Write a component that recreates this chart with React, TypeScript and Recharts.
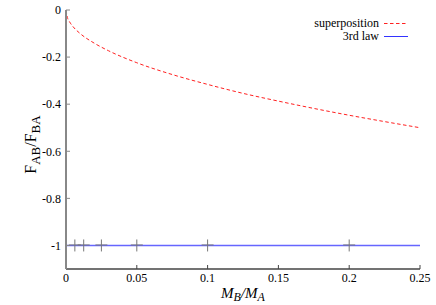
import { ComposedChart, Line, Scatter, XAxis, YAxis, Label } from "recharts";

// superposition curve
const supX = [0, 0.001, 0.0025, 0.005, 0.01, 0.02, 0.03, 0.05, 0.075, 0.1, 0.125, 0.15, 0.175, 0.2, 0.225, 0.25];
const supY = [0, -0.032, -0.05, -0.071, -0.1, -0.141, -0.173, -0.224, -0.274, -0.316, -0.354, -0.387, -0.418, -0.447, -0.474, -0.5];

// 3rd law line
const lawX = [0, 0.25];
const lawY = [-1, -1];

// simulation points (crosses)
const ptX = [0.00625, 0.0125, 0.025, 0.05, 0.1, 0.2];
const ptY = [-1, -1, -1, -1, -1, -1];

const xTicks = [0, 0.05, 0.1, 0.15, 0.2, 0.25];
const yTicks = [0, -0.2, -0.4, -0.6, -0.8, -1];

const supData = supX.map((x, i) => ({ x, y: supY[i] }));
const lawData = lawX.map((x, i) => ({ x, y: lawY[i] }));
const ptData = ptX.map((x, i) => ({ x, y: ptY[i] }));

const FONT = "Liberation Serif";
const tickStyle = { fontSize: 12, fill: "#000", fontFamily: FONT, style: { fontFamily: FONT } };

function Cross(props: any) {
  const { cx, cy } = props;
  return (
    <g stroke="#777" strokeWidth={1}>
      <line x1={cx} y1={cy - 6} x2={cx} y2={cy + 6} />
      <line x1={cx - 6} y1={cy - 0.5} x2={cx + 6} y2={cy - 0.5} />
    </g>
  );
}

function XLabel(props: any) {
  const { x, y, width } = props.viewBox;
  return (
    <text x={x + width / 2} y={y + 29} textAnchor="middle" style={{ fontFamily: FONT }} fontStyle="italic" fontSize={15} fill="#000">
      <tspan>M</tspan>
      <tspan fontSize={12} dy={3}>B</tspan>
      <tspan dy={-3}>/M</tspan>
      <tspan fontSize={12} dy={3}>A</tspan>
    </text>
  );
}

function YLabel(props: any) {
  const { x, y, height } = props.viewBox;
  const cx = x + 19.5;
  const cy = y + height / 2 + 5;
  return (
    <text x={cx} y={cy} textAnchor="middle" transform={`rotate(-90 ${cx} ${cy})`} style={{ fontFamily: FONT }} fontSize={16} fill="#000">
      <tspan>F</tspan>
      <tspan fontSize={13} dy={4}>AB</tspan>
      <tspan dy={-4}>/F</tspan>
      <tspan fontSize={13} dy={4}>BA</tspan>
    </text>
  );
}

export default function App() {
  return (
    <div style={{ position: "absolute", left: 0, top: 0, width: 436, height: 305, background: "#fff", fontFamily: FONT }}>
      <ComposedChart width={436} height={305} margin={{ top: 10, right: 16, bottom: 0, left: 16 }} style={{ fontFamily: FONT }}>
        <XAxis
          dataKey="x"
          type="number"
          domain={[0, 0.25]}
          ticks={xTicks}
          height={36}
          tickSize={-4}
          tickMargin={8}
          tick={tickStyle}
          tickFormatter={(v) => String(v)}
          axisLine={{ stroke: "#444", strokeWidth: 1.5 }}
          tickLine={{ stroke: "#444" }}
        >
          <Label content={XLabel} />
        </XAxis>
        <XAxis
          xAxisId="top"
          orientation="top"
          type="number"
          domain={[0, 0.25]}
          ticks={xTicks}
          height={0}
          tickSize={-4}
          tick={false}
          axisLine={{ stroke: "#888", strokeWidth: 2 }}
          tickLine={{ stroke: "#888" }}
        />
        <YAxis
          dataKey="y"
          type="number"
          domain={[-1.1, 0]}
          ticks={yTicks}
          width={50}
          tickSize={-4}
          tickMargin={9}
          tick={tickStyle}
          tickFormatter={(v) => String(v)}
          axisLine={{ stroke: "#888", strokeWidth: 2 }}
          tickLine={{ stroke: "#888" }}
        >
          <Label content={YLabel} />
        </YAxis>
        <YAxis
          yAxisId="right"
          orientation="right"
          type="number"
          domain={[-1.1, 0]}
          ticks={yTicks}
          width={0}
          tickSize={-4}
          tick={false}
          axisLine={{ stroke: "#222", strokeWidth: 1 }}
          tickLine={{ stroke: "#222" }}
        />
        <Line
          data={lawData}
          dataKey="y"
          type="linear"
          stroke="#6666ff"
          strokeWidth={1.5}
          dot={false}
          isAnimationActive={false}
        />
        <Scatter data={ptData} dataKey="y" shape={Cross} isAnimationActive={false} />
        <Line
          data={supData}
          dataKey="y"
          type="monotone"
          stroke="#ff2020"
          strokeWidth={1}
          strokeDasharray="3.5 2.5"
          dot={false}
          isAnimationActive={false}
        />
      </ComposedChart>
      <svg width={436} height={305} style={{ position: "absolute", left: 0, top: 0, pointerEvents: "none", fontFamily: FONT }}>
        <g fontSize={12} fill="#000" textAnchor="end">
          <text x={379} y={27}>superposition</text>
          <text x={379} y={40}>3rd law</text>
        </g>
        <line x1={384} y1={23.5} x2={408} y2={23.5} stroke="#ff2020" strokeWidth={1} strokeDasharray="3.5 2.5" />
        <line x1={384} y1={36.5} x2={408} y2={36.5} stroke="#3333ff" strokeWidth={1} />
      </svg>
    </div>
  );
}
